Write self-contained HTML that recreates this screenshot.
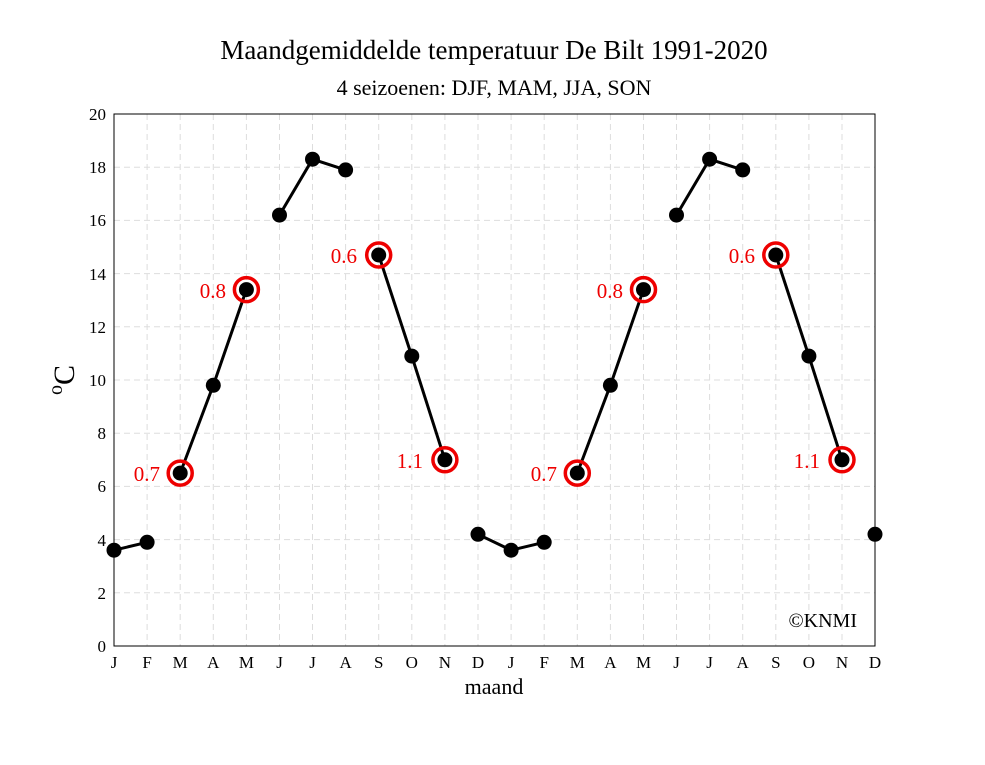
<!DOCTYPE html>
<html><head><meta charset="utf-8"><style>body{margin:0;background:#fff}</style></head><body>
<svg width="985" height="760" xmlns="http://www.w3.org/2000/svg" font-family="Liberation Serif, serif">
<rect width="985" height="760" fill="#fff"/>
<text x="494" y="59" font-size="27" text-anchor="middle">Maandgemiddelde temperatuur De Bilt 1991-2020</text>
<text x="494" y="95" font-size="22" text-anchor="middle">4 seizoenen: DJF, MAM, JJA, SON</text>
<g stroke="#ddd" stroke-dasharray="6,4" stroke-width="1">
<line x1="114" x2="875" y1="592.8" y2="592.8"/><line x1="114" x2="875" y1="539.6" y2="539.6"/><line x1="114" x2="875" y1="486.4" y2="486.4"/><line x1="114" x2="875" y1="433.2" y2="433.2"/><line x1="114" x2="875" y1="380" y2="380"/><line x1="114" x2="875" y1="326.8" y2="326.8"/><line x1="114" x2="875" y1="273.6" y2="273.6"/><line x1="114" x2="875" y1="220.4" y2="220.4"/><line x1="114" x2="875" y1="167.2" y2="167.2"/>
<line y1="114" y2="646" x1="147.1" x2="147.1"/><line y1="114" y2="646" x1="180.2" x2="180.2"/><line y1="114" y2="646" x1="213.3" x2="213.3"/><line y1="114" y2="646" x1="246.4" x2="246.4"/><line y1="114" y2="646" x1="279.5" x2="279.5"/><line y1="114" y2="646" x1="312.5" x2="312.5"/><line y1="114" y2="646" x1="345.6" x2="345.6"/><line y1="114" y2="646" x1="378.7" x2="378.7"/><line y1="114" y2="646" x1="411.8" x2="411.8"/><line y1="114" y2="646" x1="444.9" x2="444.9"/><line y1="114" y2="646" x1="478" x2="478"/><line y1="114" y2="646" x1="511.1" x2="511.1"/><line y1="114" y2="646" x1="544.2" x2="544.2"/><line y1="114" y2="646" x1="577.3" x2="577.3"/><line y1="114" y2="646" x1="610.4" x2="610.4"/><line y1="114" y2="646" x1="643.5" x2="643.5"/><line y1="114" y2="646" x1="676.5" x2="676.5"/><line y1="114" y2="646" x1="709.6" x2="709.6"/><line y1="114" y2="646" x1="742.7" x2="742.7"/><line y1="114" y2="646" x1="775.8" x2="775.8"/><line y1="114" y2="646" x1="808.9" x2="808.9"/><line y1="114" y2="646" x1="842" x2="842"/>
</g>
<rect x="114" y="114" width="761" height="532" fill="none" stroke="#000" stroke-width="1"/>
<g font-size="17" text-anchor="end">
<text x="106" y="652">0</text><text x="106" y="599">2</text><text x="106" y="546">4</text><text x="106" y="492">6</text><text x="106" y="439">8</text><text x="106" y="386">10</text><text x="106" y="333">12</text><text x="106" y="280">14</text><text x="106" y="226">16</text><text x="106" y="173">18</text><text x="106" y="120">20</text>
</g>
<g font-size="17" text-anchor="middle">
<text x="114" y="668">J</text><text x="147.1" y="668">F</text><text x="180.2" y="668">M</text><text x="213.3" y="668">A</text><text x="246.4" y="668">M</text><text x="279.5" y="668">J</text><text x="312.5" y="668">J</text><text x="345.6" y="668">A</text><text x="378.7" y="668">S</text><text x="411.8" y="668">O</text><text x="444.9" y="668">N</text><text x="478" y="668">D</text><text x="511.1" y="668">J</text><text x="544.2" y="668">F</text><text x="577.3" y="668">M</text><text x="610.4" y="668">A</text><text x="643.5" y="668">M</text><text x="676.5" y="668">J</text><text x="709.6" y="668">J</text><text x="742.7" y="668">A</text><text x="775.8" y="668">S</text><text x="808.9" y="668">O</text><text x="842" y="668">N</text><text x="875" y="668">D</text>
</g>
<text x="494" y="694" font-size="22" text-anchor="middle">maand</text>
<text transform="translate(74,380) rotate(-90)" font-size="30" text-anchor="middle"><tspan font-size="20" dy="-12">o</tspan><tspan dy="12">C</tspan></text>
<text x="857" y="627" font-size="20" text-anchor="end">©KNMI</text>
<g fill="none" stroke="#000" stroke-width="3">
<polyline points="114,550.2 147.1,542.3"/>
<polyline points="180.2,473.1 213.3,385.3 246.4,289.6"/>
<polyline points="279.5,215.1 312.5,159.2 345.6,169.9"/>
<polyline points="378.7,255 411.8,356.1 444.9,459.8"/>
<polyline points="478,534.3 511.1,550.2 544.2,542.3"/>
<polyline points="577.3,473.1 610.4,385.3 643.5,289.6"/>
<polyline points="676.5,215.1 709.6,159.2 742.7,169.9"/>
<polyline points="775.8,255 808.9,356.1 842,459.8"/>
</g>
<g fill="none" stroke="#e00" stroke-width="3.5">
<circle cx="180.2" cy="473.1" r="12"/><circle cx="246.4" cy="289.6" r="12"/><circle cx="378.7" cy="255" r="12"/><circle cx="444.9" cy="459.8" r="12"/>
<circle cx="577.3" cy="473.1" r="12"/><circle cx="643.5" cy="289.6" r="12"/><circle cx="775.8" cy="255" r="12"/><circle cx="842" cy="459.8" r="12"/>
</g>
<g fill="#000">
<circle cx="114" cy="550.2" r="7.5"/><circle cx="147.1" cy="542.3" r="7.5"/><circle cx="180.2" cy="473.1" r="7.5"/><circle cx="213.3" cy="385.3" r="7.5"/><circle cx="246.4" cy="289.6" r="7.5"/><circle cx="279.5" cy="215.1" r="7.5"/><circle cx="312.5" cy="159.2" r="7.5"/><circle cx="345.6" cy="169.9" r="7.5"/><circle cx="378.7" cy="255" r="7.5"/><circle cx="411.8" cy="356.1" r="7.5"/><circle cx="444.9" cy="459.8" r="7.5"/><circle cx="478" cy="534.3" r="7.5"/>
<circle cx="511.1" cy="550.2" r="7.5"/><circle cx="544.2" cy="542.3" r="7.5"/><circle cx="577.3" cy="473.1" r="7.5"/><circle cx="610.4" cy="385.3" r="7.5"/><circle cx="643.5" cy="289.6" r="7.5"/><circle cx="676.5" cy="215.1" r="7.5"/><circle cx="709.6" cy="159.2" r="7.5"/><circle cx="742.7" cy="169.9" r="7.5"/><circle cx="775.8" cy="255" r="7.5"/><circle cx="808.9" cy="356.1" r="7.5"/><circle cx="842" cy="459.8" r="7.5"/><circle cx="875" cy="534.3" r="7.5"/>
</g>
<g fill="#e00" font-size="21" text-anchor="end">
<text x="160" y="481">0.7</text><text x="226" y="298">0.8</text><text x="357" y="263">0.6</text><text x="423" y="468">1.1</text>
<text x="557" y="481">0.7</text><text x="623" y="298">0.8</text><text x="755" y="263">0.6</text><text x="820" y="468">1.1</text>
</g>
</svg>
</body></html>
